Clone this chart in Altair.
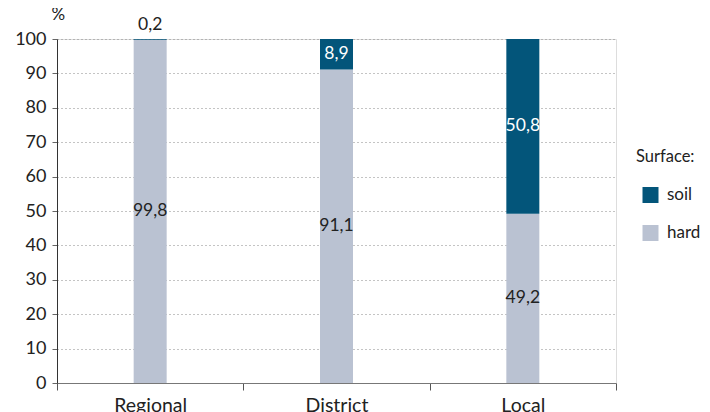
import altair as alt
import pandas as pd

categories = ["Regional", "District", "Local"]
hard = [99.8, 91.1, 49.2]
soil = [0.2, 8.9, 50.8]
surfaces = ["soil", "hard"]
colors = ["#03557a", "#bac2d2"]

rows = []
for c, h, s in zip(categories, hard, soil):
    rows.append({"cat": c, "surface": "hard", "value": h, "ord": 0})
    rows.append({"cat": c, "surface": "soil", "value": s, "ord": 1})
df = pd.DataFrame(rows)

def fmt(v):
    return f"{v:.1f}".replace(".", ",")

lab_in = []
lab_out = []
for c, h, s in zip(categories, hard, soil):
    lab_in.append({"cat": c, "pos": h / 2, "txt": fmt(h), "col": "dark"})
    if s < 3:
        lab_out.append({"cat": c, "pos": h + s, "txt": fmt(s)})
    else:
        lab_in.append({"cat": c, "pos": h + s / 2, "txt": fmt(s), "col": "light"})
df_in = pd.DataFrame(lab_in)
df_out = pd.DataFrame(lab_out)

FONT = "Lato"

x_axis = alt.Axis(labelAngle=0, labelFontSize=19.5, labelColor="#222",
                  labelPadding=6, tickBand="extent", tickSize=7,
                  tickColor="#555", domainColor="#777", grid=False,
                  labelFont=FONT)
x_enc = alt.X("cat:N", sort=categories, title=None,
              scale=alt.Scale(paddingInner=0, paddingOuter=0), axis=x_axis)

y_axis = alt.Axis(values=list(range(0, 101, 10)), labelOverlap=False,
                  tickCount=11, labelFontSize=18,
                  labelColor="#222", labelFont=FONT, tickSize=5,
                  tickColor="#666", domainColor="#333", labelPadding=6,
                  gridDash=[1, 3], gridColor="#888", gridWidth=1,
                  titleAngle=0, titleX=-6, titleY=-16, titleFontSize=17,
                  titleFontWeight="normal", titleColor="#222",
                  titleFont=FONT, titleAlign="left")
y_scale = alt.Scale(domain=[0, 100])

bars = alt.Chart(df).mark_bar(size=33).encode(
    x=x_enc,
    y=alt.Y("value:Q", stack="zero", title="%", scale=y_scale, axis=y_axis),
    color=alt.Color("surface:N",
                    scale=alt.Scale(domain=surfaces, range=colors),
                    legend=alt.Legend(title="Surface:", orient="none",
                                      legendX=579, legendY=110,
                                      titleFontSize=16.5, titleFontWeight="normal",
                                      titleColor="#222", titleFont=FONT,
                                      labelFontSize=17, labelColor="#222",
                                      labelFont=FONT, symbolType="square",
                                      symbolSize=256, symbolStrokeWidth=0,
                                      rowPadding=20, titlePadding=21,
                                      symbolOffset=6, labelOffset=8)),
    order=alt.Order("ord:Q"),
)

text_in = alt.Chart(df_in).mark_text(fontSize=17.5, font=FONT).encode(
    x=alt.X("cat:N", sort=categories, title=None, axis=x_axis),
    y=alt.Y("pos:Q", title="%", scale=y_scale, axis=y_axis),
    text="txt:N",
    color=alt.Color("col:N", scale=alt.Scale(domain=["dark", "light"],
                                             range=["#222", "#ffffff"]),
                    legend=None),
)

text_out = alt.Chart(df_out).mark_text(fontSize=17.5, font=FONT, baseline="bottom",
                                       dy=-5, color="#222").encode(
    x=alt.X("cat:N", sort=categories, title=None, axis=x_axis),
    y=alt.Y("pos:Q", title="%", scale=y_scale, axis=y_axis),
    text="txt:N",
)

chart = alt.layer(bars, text_in, text_out).resolve_scale(color="independent").properties(
    width=559, height=344,
    padding={"left": 49, "top": 31, "right": 86, "bottom": 40},
    autosize=alt.AutoSizeParams(type="none"),
).configure_view(stroke=None).configure(background="white")

chart.save("out.html", embed_options={"renderer": "svg", "actions": False})
